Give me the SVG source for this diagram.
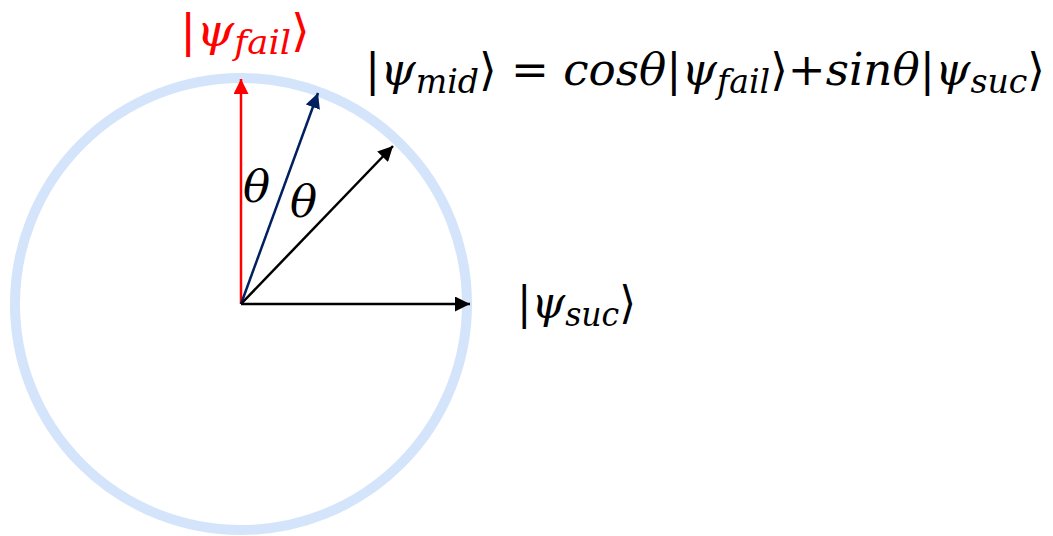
<svg xmlns="http://www.w3.org/2000/svg" width="1053" height="536" viewBox="0 0 1053 536">
<style>
.t{font-family:"DejaVu Serif","Liberation Serif",serif;font-size:45px;}
.i{font-style:italic;}
.s{font-size:33px;font-style:italic;}
</style>
<defs>
<marker id="ar" viewBox="0 0 10 10" refX="10" refY="5" markerWidth="6" markerHeight="6" orient="auto" markerUnits="strokeWidth"><path d="M0,0 L10,5 L0,10 Z" fill="#ff0000"/></marker>
<marker id="an" viewBox="0 0 10 10" refX="10" refY="5" markerWidth="6" markerHeight="6" orient="auto" markerUnits="strokeWidth"><path d="M0,0 L10,5 L0,10 Z" fill="#002060"/></marker>
<marker id="ab" viewBox="0 0 10 10" refX="10" refY="5" markerWidth="6" markerHeight="6" orient="auto" markerUnits="strokeWidth"><path d="M0,0 L10,5 L0,10 Z" fill="#000000"/></marker>
</defs>
<g id="circle"><circle cx="241" cy="304" r="226" fill="none" stroke="#d4e4fb" stroke-width="10"/></g>
<g id="connectors" stroke-width="2.5" fill="none">
<line x1="241" y1="304" x2="241" y2="79" stroke="#ff0000" marker-end="url(#ar)"/>
<line x1="241" y1="304" x2="318" y2="93" stroke="#002060" marker-end="url(#an)"/>
<line x1="241" y1="304" x2="393" y2="146" stroke="#000000" marker-end="url(#ab)"/>
<line x1="241" y1="304" x2="470" y2="304" stroke="#000000" marker-end="url(#ab)"/>
</g>
<g id="label-fail"><text class="t" x="180" y="46" fill="#ff0000" textLength="130" lengthAdjust="spacingAndGlyphs">|<tspan class="i">ψ</tspan><tspan class="s" dy="8">fail</tspan><tspan dy="-8">⟩</tspan></text></g>
<g id="label-mid"><text class="t" x="365" y="85" fill="#000" textLength="680" lengthAdjust="spacingAndGlyphs">|<tspan class="i">ψ</tspan><tspan class="s" dy="8">mid</tspan><tspan dy="-8">⟩ = </tspan><tspan class="i">cosθ</tspan>|<tspan class="i">ψ</tspan><tspan class="s" dy="8">fail</tspan><tspan dy="-8">⟩+</tspan><tspan class="i">sinθ</tspan>|<tspan class="i">ψ</tspan><tspan class="s" dy="8">suc</tspan><tspan dy="-8">⟩</tspan></text></g>
<g id="label-suc"><text class="t" x="517" y="318" fill="#000" textLength="119" lengthAdjust="spacingAndGlyphs">|<tspan class="i">ψ</tspan><tspan class="s" dy="8">suc</tspan><tspan dy="-8">⟩</tspan></text></g>
<g id="theta1"><text class="t i" x="243" y="202">θ</text></g>
<g id="theta2"><text class="t i" x="290" y="217">θ</text></g>
</svg>
